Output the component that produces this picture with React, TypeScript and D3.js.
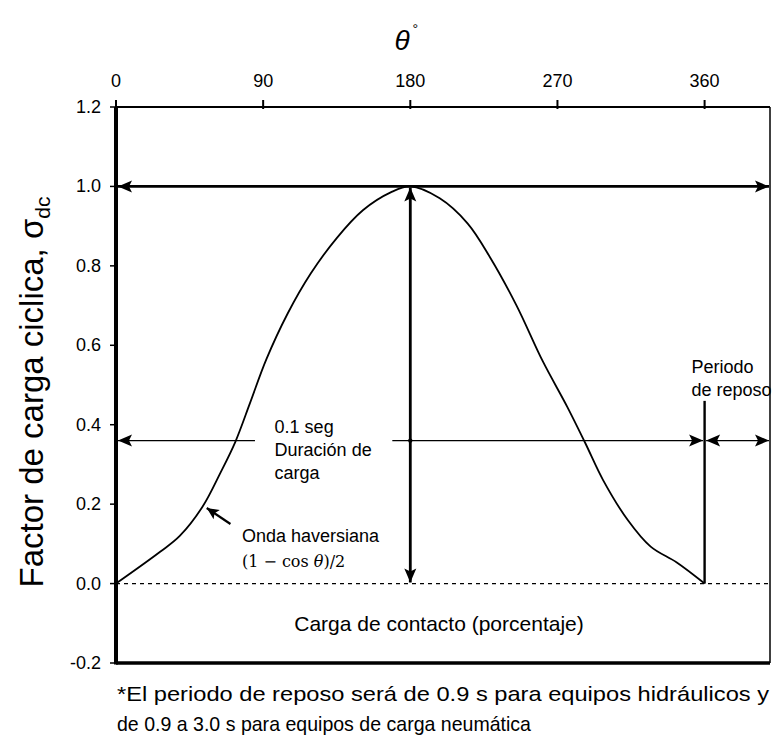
import React from "react";
import * as d3 from "d3";

// ---- data ----
const thetaTicks = [0, 90, 180, 270, 360];
const yTicks = [-0.2, 0.0, 0.2, 0.4, 0.6, 0.8, 1.0, 1.2];
const curveTheta = [0, 27, 39, 53, 64, 73, 82, 92, 105, 119, 135, 151, 168, 180, 198, 215, 229, 245, 261, 276, 287, 298, 313, 327, 343, 360];
const curveValue = [0, 0.08, 0.12, 0.194, 0.28, 0.357, 0.455, 0.565, 0.68, 0.78, 0.87, 0.94, 0.985, 1.0, 0.97, 0.907, 0.82, 0.7, 0.56, 0.445, 0.354, 0.26, 0.16, 0.093, 0.053, 0];
const peakValue = 1.0;
const peakTheta = 180;
const restTheta = 360;
const durationLevel = 0.36;
const restLineTop = 0.46;
const xDomain = [0, 400];
const yDomain = [-0.2, 1.2];

const W = 773;
const H = 736;
const FONT = "'Liberation Sans', Arial, Helvetica, sans-serif";

export default function App() {
  const x = d3.scaleLinear().domain(xDomain).range([116, 770]);
  const y = d3.scaleLinear().domain(yDomain).range([663, 107]);
  const pts: [number, number][] = curveTheta.map((t, i) => [t, curveValue[i]]);
  const line = d3
    .line<[number, number]>()
    .x((d) => x(d[0]))
    .y((d) => y(d[1]))
    .curve(d3.curveCatmullRom.alpha(0.5));

  const x0 = x(xDomain[0]);
  const x1 = x(xDomain[1]);
  const yTop = y(yDomain[1]);
  const yBot = y(yDomain[0]);
  const yDur = y(durationLevel);

  return (
    <svg
      width={W}
      height={H}
      style={{ position: "absolute", left: 0, top: 0, background: "#fff" }}
      fontFamily={FONT}
    >
      <defs>
        <marker id="ah" viewBox="-15 -7 17 14" refX={0} refY={0} markerWidth={17} markerHeight={14} markerUnits="userSpaceOnUse" orient="auto-start-reverse">
          <path d="M0,0 L-14,-6 L-11,0 L-14,6 Z" fill="#000" />
        </marker>
        <marker id="ahs" viewBox="-15 -7 17 14" refX={0} refY={0} markerWidth={15} markerHeight={12} markerUnits="userSpaceOnUse" orient="auto-start-reverse">
          <path d="M0,0 L-14,-6.5 L-11,0 L-14,6.5 Z" fill="#000" />
        </marker>
      </defs>
      <rect x={0} y={0} width={W} height={H} fill="#fff" />

      {/* title */}
      <text x={x(180) - 4} y={50} fontSize={28} fontStyle="italic" textAnchor="middle">
        θ
        <tspan fontSize={14} dy={-16} dx={3} fontStyle="normal">°</tspan>
      </text>

      {/* top ticks & labels */}
      {thetaTicks.map((t) => (
        <g key={t}>
          <line x1={x(t)} x2={x(t)} y1={yTop - 7} y2={yTop + 2} stroke="#000" strokeWidth={2} />
          <text x={x(t)} y={87} fontSize={18} textAnchor="middle">{t}</text>
        </g>
      ))}

      {/* left ticks & labels */}
      {yTicks.map((v) => (
        <g key={v}>
          <line x1={x0 - 6} x2={x0} y1={y(v)} y2={y(v)} stroke="#000" strokeWidth={1.5} />
          <text x={101} y={y(v) + 6} fontSize={18} textAnchor="end">{v.toFixed(1)}</text>
        </g>
      ))}

      {/* y axis title */}
      <text transform={`translate(43,392) rotate(-90)`} fontSize={33} textAnchor="middle">
        Factor de carga ciclica, σ<tspan fontSize={21} dy={7}>dc</tspan>
      </text>

      {/* frame */}
      <line x1={x0} x2={x1} y1={yTop} y2={yTop} stroke="#000" strokeWidth={2} />
      <line x1={x1} x2={x1} y1={yTop} y2={yBot} stroke="#000" strokeWidth={1.5} />
      <line x1={x0} x2={x1} y1={yBot} y2={yBot} stroke="#000" strokeWidth={3.5} />
      <line x1={x0} x2={x0} y1={yTop} y2={yBot + 1.5} stroke="#000" strokeWidth={4} />

      {/* zero dotted line */}
      <line x1={x0} x2={x1} y1={y(0)} y2={y(0)} stroke="#000" strokeWidth={1.2} strokeDasharray="4,4" />

      {/* haversine curve */}
      <path d={line(pts) || ""} fill="none" stroke="#000" strokeWidth={1.8} />

      {/* peak horizontal double arrow */}
      <line x1={x0 + 2} x2={x1 - 1} y1={y(peakValue)} y2={y(peakValue)} stroke="#000" strokeWidth={2.8} markerStart="url(#ah)" markerEnd="url(#ah)" />
      {/* peak vertical double arrow */}
      <line x1={x(peakTheta)} x2={x(peakTheta)} y1={y(peakValue) + 1} y2={y(0) - 1} stroke="#000" strokeWidth={2.8} markerStart="url(#ah)" markerEnd="url(#ah)" />

      {/* duration arrow */}
      <line x1={x0 + 2} x2={x(85)} y1={yDur} y2={yDur} stroke="#000" strokeWidth={1.4} markerStart="url(#ah)" />
      <line x1={x(169)} x2={x(restTheta) - 1.5} y1={yDur} y2={yDur} stroke="#000" strokeWidth={1.4} markerEnd="url(#ah)" />
      <circle cx={x(peakTheta)} cy={yDur} r={2.2} fill="#000" />
      {/* rest period arrow */}
      <line x1={x(restTheta) + 1.5} x2={x1 - 1} y1={yDur} y2={yDur} stroke="#000" strokeWidth={1.4} markerStart="url(#ah)" markerEnd="url(#ah)" />
      <line x1={x(restTheta)} x2={x(restTheta)} y1={y(restLineTop)} y2={y(0)} stroke="#000" strokeWidth={2.4} />

      {/* texts */}
      <g fontSize={18}>
        <text x={x(97)} y={433}>0.1 seg</text>
        <text x={x(97)} y={456}>Duración de</text>
        <text x={x(97)} y={479}>carga</text>
        <text x={x(77)} y={542}>Onda haversiana</text>
        <text x={x(77)} y={567} fontFamily="'DejaVu Serif', serif" fontSize={16}>(1 − cos <tspan fontStyle="italic">θ</tspan>)/2</text>
        <text x={x(352)} y={373}>Periodo</text>
        <text x={x(352)} y={396}>de reposo</text>
      </g>
      <line x1={x(70)} x2={x(55.5)} y1={524} y2={508} stroke="#000" strokeWidth={2.2} markerEnd="url(#ahs)" />

      <text x={439} y={631} fontSize={21} textAnchor="middle">Carga de contacto (porcentaje)</text>

      <text x={117} y={701} fontSize={21} textLength={652} lengthAdjust="spacingAndGlyphs">*El periodo de reposo será de 0.9 s para equipos hidráulicos y</text>
      <text x={117} y={731} fontSize={21} textLength={414} lengthAdjust="spacingAndGlyphs">de 0.9 a 3.0 s para equipos de carga neumática</text>
    </svg>
  );
}
